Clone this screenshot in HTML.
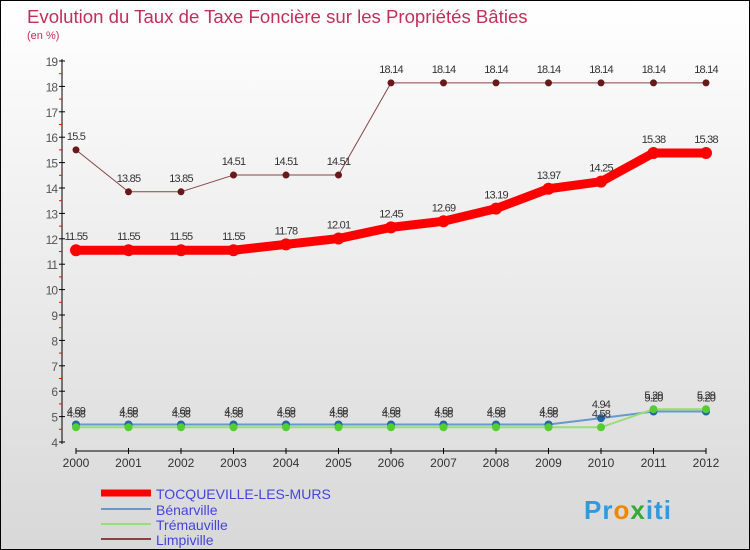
<!DOCTYPE html>
<html><head><meta charset="utf-8"><style>
body{margin:0}
#wrap{width:748px;height:548px;border:1px solid #000;background:linear-gradient(#fff,#d8d8d8);position:relative;font-family:"Liberation Sans",sans-serif;overflow:hidden}
</style></head><body>
<div id="wrap">
<svg id="svg" width="748" height="548" xmlns="http://www.w3.org/2000/svg">
<text x="26" y="22" font-size="18.6" fill="#c0305a">Evolution du Taux de Taxe Foncière sur les Propriétés Bâties</text>
<text x="26" y="38" font-size="11" fill="#c0305a">(en %)</text>
<g id="axes"></g><g id="series"></g>
<g>
<line x1="100" y1="492" x2="150" y2="492" stroke="#f00" stroke-width="7"/>
<text x="155" y="498" font-size="14" fill="#4444dd">TOCQUEVILLE-LES-MURS</text>
<line x1="100" y1="508" x2="150" y2="508" stroke="#6699cc" stroke-width="2"/>
<text x="155" y="514" font-size="14" fill="#4444dd">Bénarville</text>
<line x1="100" y1="523" x2="150" y2="523" stroke="#99dd77" stroke-width="2"/>
<text x="155" y="529" font-size="14" fill="#4444dd">Trémauville</text>
<line x1="100" y1="538" x2="150" y2="538" stroke="#884444" stroke-width="2"/>
<text x="155" y="544" font-size="14" fill="#4444dd">Limpiville</text>
</g>
<text x="583" y="518" font-size="26" font-weight="bold" letter-spacing="1"><tspan fill="#3399dd">Pr</tspan><tspan fill="#ee8800">o</tspan><tspan fill="#33aa33">x</tspan><tspan fill="#3399dd">iti</tspan></text>
</svg></div>
<script>
const years=[2000,2001,2002,2003,2004,2005,2006,2007,2008,2009,2010,2011,2012];
const yTicks=[4,5,6,7,8,9,10,11,12,13,14,15,16,17,18,19];
const tocqueville=[11.55,11.55,11.55,11.55,11.78,12.01,12.45,12.69,13.19,13.97,14.25,15.38,15.38];
const benarville=[4.69,4.69,4.69,4.69,4.69,4.69,4.69,4.69,4.69,4.69,4.94,5.20,5.20];
const tremauville=[4.58,4.58,4.58,4.58,4.58,4.58,4.58,4.58,4.58,4.58,4.58,5.29,5.29];
const limpiville=[15.5,13.85,13.85,14.51,14.51,14.51,18.14,18.14,18.14,18.14,18.14,18.14,18.14];
const NS="http://www.w3.org/2000/svg";
const xS=i=>75+i*52.5, yS=v=>441-(v-4)*25.4;
function mk(t,a,p){const e=document.createElementNS(NS,t);for(const k in a)e.setAttribute(k,a[k]);p.appendChild(e);return e;}
const ax=document.getElementById('axes'),sg=document.getElementById('series');
mk('line',{x1:61,y1:58,x2:61,y2:443,stroke:'#000'},ax);
mk('line',{x1:75,y1:450,x2:705,y2:450,stroke:'#000'},ax);
yTicks.forEach(v=>{const y=yS(v);
mk('line',{x1:58,y1:y,x2:64,y2:y,stroke:'#000'},ax);
if(v<19)mk('line',{x1:58,y1:y-12.7,x2:61,y2:y-12.7,stroke:'#f00'},ax);
const t=mk('text',{x:56,y:y+5,'font-size':12,fill:'#555','text-anchor':'end','letter-spacing':'-1'},ax);t.textContent=v;

});
years.forEach((yr,i)=>{const x=xS(i);
mk('line',{x1:x,y1:447,x2:x,y2:453,stroke:'#000'},ax);
const t=mk('text',{x:x,y:466,'font-size':12,fill:'#333','text-anchor':'middle'},ax);t.textContent=yr;

});
function fmt(v){const s=String(v);return (v<10&&s.length<4)?v.toFixed(2):s;}
function series(vals,color,w,r,name,dotColor){
const g=mk('g',{},sg);


mk('polyline',{points:vals.map((v,i)=>xS(i)+','+yS(v)).join(' '),fill:'none',stroke:color,'stroke-width':w,'stroke-linejoin':'round'},g);
vals.forEach((v,i)=>{const c=mk('circle',{cx:xS(i),cy:yS(v),r:r,fill:dotColor},g);


const t=mk('text',{x:xS(i),y:yS(v)-10,'font-size':11,fill:'#333','text-anchor':'middle','letter-spacing':'-0.8'},g);t.textContent=fmt(v);

});}
series(limpiville,'#884444',1,3.5,'limpiville','#661a1a');
series(tocqueville,'#f00',9,6,'tocqueville','#f00');
series(benarville,'#6699cc',2,4,'benarville','#2266aa');
series(tremauville,'#99dd77',2,4,'tremauville','#55cc33');
</script>
</body></html>
